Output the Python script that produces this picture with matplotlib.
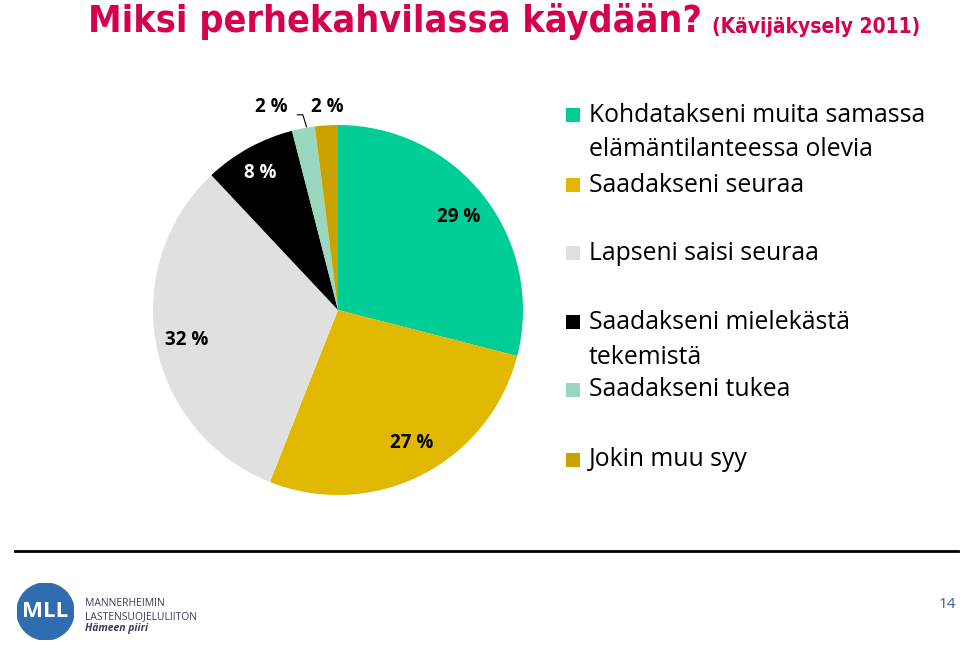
import matplotlib.pyplot as plt
from matplotlib.patches import Rectangle, Circle
from matplotlib import font_manager as fm

labels = [["Kohdatakseni muita samassa", "elämäntilanteessa olevia"],
          ["Saadakseni seuraa"],
          ["Lapseni saisi seuraa"],
          ["Saadakseni mielekästä", "tekemistä"],
          ["Saadakseni tukea"],
          ["Jokin muu syy"]]
values = [29, 27, 32, 8, 2, 2]
colors = ["#00CC96", "#E0B800", "#E0E0E0", "#000000", "#99D8BE", "#C9A200"]
pct_text = ["29 %", "27 %", "32 %", "8 %", "2 %", "2 %"]

plt.rcParams['font.family'] = ['Open Sans', 'DejaVu Sans']

# a narrow bold face for the title, if one is there
title_font = dict(family='Open Sans', size=24)
sub_size = 13
for fam in ['Liberation Sans Narrow', 'DejaVu Sans']:
    try:
        fp = fm.FontProperties(family=fam, weight='bold', stretch='condensed')
        path = fm.findfont(fp, fallback_to_default=False)
    except Exception:
        continue
    if 'Narrow' in path or 'Condensed' in path:
        title_font = dict(fname=path, size=27)
        sub_size = 15
        break

fig = plt.figure(figsize=(9.6, 6.63), dpi=100)

# pie
ax = fig.add_axes([153 / 960, 1 - 495 / 663, 370 / 960, 370 / 663])
wedges, _ = ax.pie(values, colors=colors, startangle=90, counterclock=False,
                   radius=1.0)
ax.set_xlim(-1, 1)
ax.set_ylim(-1, 1)
ax.set_aspect('equal')

# percentage labels (positions relative to pie)
lbl_pos = [(0.65, 0.50), (0.40, -0.72), (-0.82, -0.16), (-0.42, 0.74),
           (-0.36, 1.10), (-0.06, 1.10)]
for i, (x, y) in enumerate(lbl_pos):
    col = "white" if i == 3 else "black"
    ax.text(x, y, pct_text[i], ha='center', va='center', fontsize=13.5,
            fontweight='bold', color=col, clip_on=False)
# leader line for the light-green 2 %
ax.plot([-0.22, -0.19, -0.17], [1.055, 1.055, 0.99], color='black', lw=0.8,
        clip_on=False)

# legend (manual)
leg_y = [115, 185, 253, 322, 390, 460]
for i, lines in enumerate(labels):
    y = leg_y[i]
    fig.patches.append(Rectangle((566 / 960, 1 - (y + 7) / 663), 14 / 960,
                                 14 / 663, transform=fig.transFigure,
                                 facecolor=colors[i], edgecolor='none'))
    for j, line in enumerate(lines):
        fig.text(589 / 960, 1 - (y + 35 * j) / 663, line, ha='left',
                 va='center', fontsize=17.8, color='black')

# title
fp_title = fm.FontProperties(**title_font)
if 'fname' not in title_font:
    fp_title.set_weight('bold')
fig.text(88 / 960, 1 - 22 / 663, "Miksi perhekahvilassa käydään?",
         fontproperties=fp_title, color='#D5004F', ha='left', va='center')
fp_sub = fm.FontProperties(**title_font)
fp_sub.set_size(sub_size)
if 'fname' not in title_font:
    fp_sub.set_weight('bold')
fig.text(712 / 960, 1 - 27 / 663, "(Kävijäkysely 2011)", fontproperties=fp_sub,
         color='#D5004F', ha='left', va='center')

# bottom line
fig.add_artist(plt.Line2D([15 / 960, 958 / 960], [1 - 551 / 663, 1 - 551 / 663],
                          color='black', lw=2, transform=fig.transFigure))

# logo
lax = fig.add_axes([17 / 960, 1 - 640 / 663, 57 / 960, 57 / 663])
lax.add_patch(Circle((0, 0), 1, color='#2F6CB0'))
lax.text(0, 0, "MLL", color='white', fontsize=16, fontweight='bold',
         ha='center', va='center')
lax.set_xlim(-1, 1)
lax.set_ylim(-1, 1)
lax.set_aspect('equal')
lax.axis('off')
fig.text(85 / 960, 1 - 604 / 663, "MANNERHEIMIN", fontsize=7.5, color='#3A3A66',
         ha='left', va='center')
fig.text(85 / 960, 1 - 617 / 663, "LASTENSUOJELULIITON", fontsize=7.5,
         color='#3A3A66', ha='left', va='center')
fig.text(85 / 960, 1 - 629 / 663, "Hämeen piiri", fontsize=7.5, color='#3A3A66',
         ha='left', va='center', style='italic', fontweight='bold')

fig.text(947 / 960, 1 - 604 / 663, "14", fontsize=11, color='#3060A0',
         ha='center', va='center')

fig.savefig("out.png", dpi=100)
